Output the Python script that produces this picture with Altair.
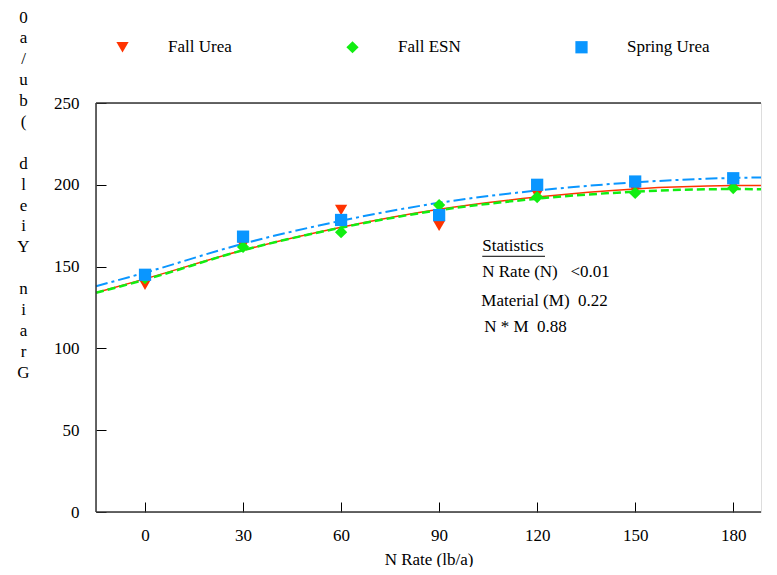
import altair as alt
import pandas as pd

FONT = "Liberation Serif, Times New Roman, serif"

series = ["Fall Urea", "Fall ESN", "Spring Urea"]
colors = ["#ff3300", "#11ee11", "#0a96ff"]
shapes = ["triangle-down", "diamond", "square"]

n_rates = [0, 30, 60, 90, 120, 150, 180]
fall_urea = [139, 163, 184.6, 175, 194, 197, 199.5]
fall_esn = [143, 162, 171, 187.6, 192.5, 195, 198]
spring_urea = [145, 168.3, 178.5, 181.5, 200, 202, 204]

curve_x = [-15, 0, 30, 60, 90, 120, 150, 180, 188.5]
curve_fall_urea = [134, 142.5, 160, 174, 185, 192.5, 197.5, 199.5, 199.6]
curve_fall_esn = [134, 142, 160, 173.8, 184.5, 191.5, 195.8, 197.4, 197.3]
curve_spring_urea = [138, 146.3, 164, 178, 189, 196.5, 201.5, 204.2, 204.5]

y_ticks = [0, 50, 100, 150, 200, 250]
x_domain = [-15, 188.5]
y_domain = [0, 250]

stats_lines = ["Statistics", "N Rate (N)\u00a0\u00a0 <0.01", "Material (M)\u00a0 0.22", "N * M\u00a0 0.88"]
stats_x = [103.2, 103.2, 102.9, 103.8]
stats_y = [162.6, 146.7, 129.0, 113.1]
underline_x = [103.2, 122.4]
underline_y = [156.3]

ZW = "\u200b"
y_title = ["0", "a", "/", "u", "b", "(", ZW, "d", "l", "e", "i", "Y", ZW, "n", "i", "a", "r", "G"]

W, H = 665, 409

points = pd.DataFrame(
    [{"series": s, "N": n, "Yield": v}
     for s, vals in zip(series, [fall_urea, fall_esn, spring_urea])
     for n, v in zip(n_rates, vals)]
)

x_enc = alt.X(
    "N:Q",
    scale=alt.Scale(domain=x_domain, nice=False, zero=False),
    axis=alt.Axis(
        values=n_rates, title="N Rate (lb/a)", domain=False, grid=False,
        offset=-10, tickSize=10, tickColor="black", tickWidth=1,
        labelPadding=15, labelFont=FONT, labelFontSize=17, labelColor="black",
        titleFont=FONT, titleFontSize=17, titleFontWeight="normal",
        titleColor="black", titlePadding=8,
    ),
)
y_enc = alt.Y(
    "Yield:Q",
    scale=alt.Scale(domain=y_domain, nice=False),
    axis=alt.Axis(
        values=y_ticks, title=y_title, domain=False, grid=False,
        offset=-10, tickSize=10, tickColor="black", tickWidth=1,
        labelPadding=17, labelFont=FONT, labelFontSize=17, labelColor="black",
        titleFont=FONT, titleFontSize=17, titleFontWeight="normal",
        titleColor="black", titleAngle=0, titleAlign="center",
        titleBaseline="top", titleLineHeight=20.9, titleX=-83, titleY=-94,
    ),
)

layers = []
styles = [
    dict(strokeWidth=1.5),
    dict(strokeWidth=2.5, strokeDash=[8, 4]),
    dict(strokeWidth=2, strokeDash=[12, 4, 3, 4]),
]
for vals, col, st in zip([curve_fall_urea, curve_fall_esn, curve_spring_urea], colors, styles):
    df = pd.DataFrame({"N": curve_x, "Yield": vals})
    layers.append(
        alt.Chart(df).mark_line(color=col, interpolate="monotone", **st).encode(x=x_enc, y=y_enc)
    )

legend = alt.Legend(
    title=None, orient="none", legendX=18, legendY=-64.5, direction="horizontal",
    columnPadding=112, labelOffset=37, labelFont=FONT, labelFontSize=17,
    labelColor="black", symbolSize=150, symbolStrokeWidth=0, padding=0,
)
pts = alt.Chart(points).mark_point(filled=True, size=150, opacity=1, strokeWidth=0).encode(
    x=x_enc, y=y_enc,
    color=alt.Color("series:N", scale=alt.Scale(domain=series, range=colors), legend=legend),
    shape=alt.Shape("series:N", scale=alt.Scale(domain=series, range=shapes), legend=legend),
)
layers.append(pts)

stats = pd.DataFrame({"N": stats_x, "Yield": stats_y, "label": stats_lines})
layers.append(
    alt.Chart(stats).mark_text(align="left", baseline="middle", font=FONT, fontSize=17, color="black").encode(
        x=x_enc, y=y_enc, text="label:N"
    )
)
ul = pd.DataFrame({"N": [underline_x[0]], "N2": [underline_x[1]], "Yield": underline_y})
layers.append(
    alt.Chart(ul).mark_rule(color="black", strokeWidth=1).encode(x=x_enc, x2="N2:Q", y=y_enc)
)

one = pd.DataFrame({"a": [0]})
frame_col = "#333333"
layers.append(alt.Chart(one).mark_rule(color=frame_col, strokeWidth=1.5).encode(
    x=alt.value(0), x2=alt.value(W), y=alt.value(0)))
layers.append(alt.Chart(one).mark_rule(color=frame_col, strokeWidth=1.5).encode(
    x=alt.value(0), y=alt.value(0), y2=alt.value(H)))
layers.append(alt.Chart(one).mark_rule(color=frame_col, strokeWidth=1.5).encode(
    x=alt.value(0), x2=alt.value(W), y=alt.value(H)))

chart = alt.layer(*layers).properties(
    width=W, height=H, padding={"left": 8, "top": 0, "right": 0, "bottom": 0}
).configure_view(stroke=None).configure(background="white")

chart.save("out.html", embed_options={"renderer": "svg", "actions": False})
